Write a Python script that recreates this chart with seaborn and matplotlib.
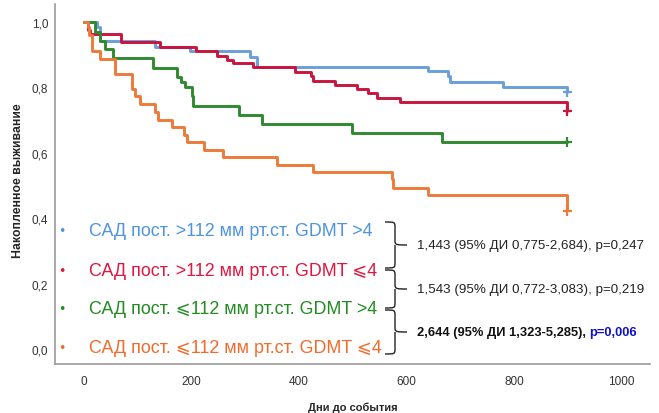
import numpy as np
import pandas as pd
import matplotlib
matplotlib.use("Agg")
import matplotlib.pyplot as plt
from matplotlib.path import Path
from matplotlib.patches import PathPatch
import seaborn as sns

# ---------------- data ----------------
groups = [
    "САД пост. >112 мм рт.ст. GDMT >4",
    "САД пост. >112 мм рт.ст. GDMT ⩽4",
    "САД пост. ⩽112 мм рт.ст. GDMT >4",
    "САД пост. ⩽112 мм рт.ст. GDMT ⩽4",
]
blue_days = [0, 24, 30, 132, 197, 309, 322, 640, 677, 681, 780, 899]
blue_surv = [1.0, 0.985, 0.942, 0.924, 0.911, 0.893, 0.862, 0.85, 0.835, 0.817, 0.801, 0.786]
red_days = [0, 7, 11, 69, 141, 208, 247, 266, 277, 314, 392, 422, 426, 467, 508, 528, 545, 588, 899]
red_surv = [1.0, 0.976, 0.963, 0.94, 0.924, 0.911, 0.896, 0.884, 0.875, 0.862, 0.847, 0.835,
            0.82, 0.807, 0.795, 0.783, 0.768, 0.755, 0.728]
green_days = [0, 20, 30, 39, 54, 128, 173, 180, 188, 201, 203, 288, 331, 498, 666, 899]
green_surv = [1.0, 0.969, 0.942, 0.917, 0.89, 0.859, 0.832, 0.817, 0.80, 0.774, 0.743, 0.716,
              0.688, 0.66, 0.633, 0.633]
orange_days = [0, 7, 9, 15, 30, 57, 89, 95, 104, 132, 138, 164, 186, 192, 223, 259, 359, 426,
               573, 575, 640, 899]
orange_surv = [1.0, 0.985, 0.96, 0.911, 0.887, 0.841, 0.795, 0.774, 0.749, 0.725, 0.70, 0.679,
               0.654, 0.633, 0.609, 0.587, 0.563, 0.541, 0.52, 0.492, 0.471, 0.428]
censor_days = [899, 899, 899, 899]
censor_surv = [0.786, 0.728, 0.633, 0.422]
hr_texts = ["1,443 (95% ДИ 0,775-2,684), p=0,247",
            "1,543 (95% ДИ 0,772-3,083), p=0,219",
            "2,644 (95% ДИ 1,323-5,285), "]
p_bold = "p=0,006"
x_ticks = [0, 200, 400, 600, 800, 1000]
y_ticks = [0.0, 0.2, 0.4, 0.6, 0.8, 1.0]

line_colors = ["#6A9FDB", "#C8153F", "#2F8A2F", "#EE7A3A"]
text_colors = ["#4F94E0", "#E0173F", "#228B22", "#F26B2A"]

# ---------------- frame ----------------
rows = []
for g, d, s in zip(groups, [blue_days, red_days, green_days, orange_days],
                   [blue_surv, red_surv, green_surv, orange_surv]):
    for di, si in zip(d, s):
        rows.append((g, di, si))
df = pd.DataFrame(rows, columns=["group", "day", "surv"])
cens = pd.DataFrame({"group": groups, "day": censor_days, "surv": censor_surv})

sns.set_theme(style="white")
FAM = ["Liberation Sans", "DejaVu Sans"]
plt.rcParams["font.family"] = FAM

fig = plt.figure(figsize=(6.59, 4.14), dpi=100)
ax = fig.add_axes([55 / 659, 1 - 365 / 414, (650 - 55) / 659, (365 - 5) / 414])

pal = dict(zip(groups, line_colors))
sns.lineplot(data=df, x="day", y="surv", hue="group", palette=pal, estimator=None,
             drawstyle="steps-post", linewidth=2.1, legend=False, ax=ax)
sns.scatterplot(data=cens, x="day", y="surv", hue="group", palette=pal, marker="+",
                s=45, linewidth=1.6, legend=False, ax=ax, zorder=5)

ax.set_xlim(-54, 1053)
ax.set_ylim(-0.046, 1.055)
ax.set_xticks(x_ticks)
ax.set_xticklabels([str(t) for t in x_ticks])
ax.set_yticks(y_ticks)
ax.set_yticklabels([f"{t:.1f}".replace(".", ",") for t in y_ticks])
ax.tick_params(axis="both", length=0, labelsize=8.5, colors="#333333")
ax.tick_params(axis="y", pad=5)
ax.tick_params(axis="x", pad=8)
for side in ["top", "right"]:
    ax.spines[side].set_visible(False)
for side in ["left", "bottom"]:
    ax.spines[side].set_color("#9a9a9a")
    ax.spines[side].set_linewidth(1.2)

ax.set_xlabel("")
ax.set_ylabel("")
fig.text(353 / 659, 1 - 408 / 414, "Дни до события", ha="center", va="center",
         fontsize=8, fontweight="bold")
fig.text(18 / 659, 1 - 181 / 414, "Накопленное выживание", ha="center", va="center",
         rotation=90, fontsize=8.8, fontweight="bold")

# ---------------- legend texts ----------------
leg_y = [232, 271, 310, 349]
for g, c, yy in zip(groups, text_colors, leg_y):
    fy = 1 - yy / 414
    fig.text(62 / 659, fy, "•", color=c, fontsize=9, ha="center", va="center",
             family=["DejaVu Sans"])
    fig.text(89 / 659, fy, g, color=c, fontsize=12.9, ha="left", va="center")

# ---------------- braces ----------------
def brace(y_top, y_bot, x_left=385, x_mid=395, x_tip=407):
    ym = (y_top + y_bot) / 2
    verts = [
        (x_left, y_top),
        (x_mid, y_top), (x_mid, y_top), (x_mid, y_top + 6),
        (x_mid, ym - 4),
        (x_mid, ym), (x_mid + 2, ym), (x_tip, ym),
        (x_mid, ym), (x_mid, ym), (x_mid, ym), (x_mid, ym + 4),
        (x_mid, y_bot - 6),
        (x_mid, y_bot), (x_mid, y_bot), (x_left, y_bot),
    ]
    codes = [Path.MOVETO,
             Path.CURVE4, Path.CURVE4, Path.CURVE4,
             Path.LINETO,
             Path.CURVE4, Path.CURVE4, Path.CURVE4,
             Path.MOVETO, Path.CURVE4, Path.CURVE4, Path.CURVE4,
             Path.LINETO,
             Path.CURVE4, Path.CURVE4, Path.CURVE4]
    v = [(x / 659, 1 - y / 414) for x, y in verts]
    p = PathPatch(Path(v, codes), transform=fig.transFigure, fill=False,
                  edgecolor="#222222", linewidth=1.0)
    fig.add_artist(p)
    return ym

brace_spans = [(223, 269), (271, 309), (311, 355)]
mids = [brace(a, b) for a, b in brace_spans]

for i, (t, ym) in enumerate(zip(hr_texts, mids)):
    fy = 1 - ym / 414
    if i < 2:
        fig.text(417 / 659, fy, t, color="#222222", fontsize=9.6, ha="left", va="center")
    else:
        tx = fig.text(417 / 659, fy, t, color="#111111", fontsize=9.3, ha="left", va="center",
                      fontweight="bold")
        fig.canvas.draw()
        bb = tx.get_window_extent()
        fig.text(bb.x1 / fig.bbox.width, fy, p_bold, color="#1010CC", fontsize=9.3,
                 ha="left", va="center", fontweight="bold")

fig.savefig("out.png", dpi=100)
